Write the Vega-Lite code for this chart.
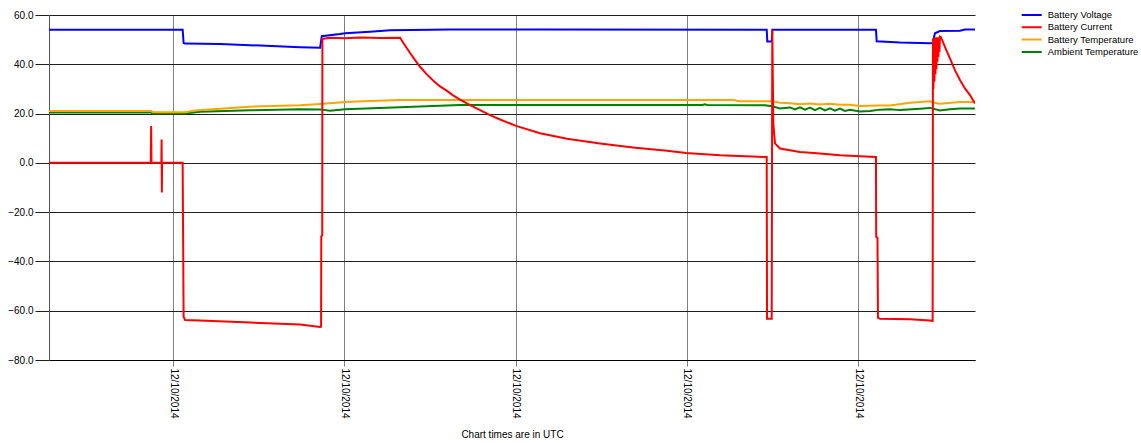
{
  "$schema": "https://vega.github.io/schema/vega-lite/v6.json",
  "width": 926,
  "height": 345,
  "autosize": {"type": "none"},
  "padding": {"left": 49, "top": 15, "right": 166, "bottom": 83},
  "background": "#ffffff",
  "config": {"font": "Liberation Sans", "view": {"stroke": null}},
  "data": {
    "values": [
      {"t": "2014-12-10T00:33:00", "s": "Ambient Temperature", "v": 20.4},
      {"t": "2014-12-10T01:44:35", "s": "Ambient Temperature", "v": 20.4},
      {"t": "2014-12-10T01:46:00", "s": "Ambient Temperature", "v": 20.0},
      {"t": "2014-12-10T02:08:25", "s": "Ambient Temperature", "v": 20.0},
      {"t": "2014-12-10T02:18:55", "s": "Ambient Temperature", "v": 20.7},
      {"t": "2014-12-10T02:53:57", "s": "Ambient Temperature", "v": 21.3},
      {"t": "2014-12-10T03:28:59", "s": "Ambient Temperature", "v": 21.8},
      {"t": "2014-12-10T03:43:00", "s": "Ambient Temperature", "v": 21.7},
      {"t": "2014-12-10T03:50:01", "s": "Ambient Temperature", "v": 21.1},
      {"t": "2014-12-10T04:00:31", "s": "Ambient Temperature", "v": 21.8},
      {"t": "2014-12-10T04:39:04", "s": "Ambient Temperature", "v": 22.6},
      {"t": "2014-12-10T05:02:11", "s": "Ambient Temperature", "v": 23.1},
      {"t": "2014-12-10T05:21:06", "s": "Ambient Temperature", "v": 23.5},
      {"t": "2014-12-10T08:11:00", "s": "Ambient Temperature", "v": 23.5},
      {"t": "2014-12-10T08:12:30", "s": "Ambient Temperature", "v": 23.8},
      {"t": "2014-12-10T08:14:30", "s": "Ambient Temperature", "v": 23.5},
      {"t": "2014-12-10T08:54:49", "s": "Ambient Temperature", "v": 23.4},
      {"t": "2014-12-10T08:59:56", "s": "Ambient Temperature", "v": 23.0},
      {"t": "2014-12-10T09:05:19", "s": "Ambient Temperature", "v": 22.1},
      {"t": "2014-12-10T09:12:20", "s": "Ambient Temperature", "v": 22.5},
      {"t": "2014-12-10T09:15:50", "s": "Ambient Temperature", "v": 21.7},
      {"t": "2014-12-10T09:19:20", "s": "Ambient Temperature", "v": 22.5},
      {"t": "2014-12-10T09:22:50", "s": "Ambient Temperature", "v": 21.6},
      {"t": "2014-12-10T09:26:20", "s": "Ambient Temperature", "v": 22.4},
      {"t": "2014-12-10T09:29:50", "s": "Ambient Temperature", "v": 21.4},
      {"t": "2014-12-10T09:33:21", "s": "Ambient Temperature", "v": 22.3},
      {"t": "2014-12-10T09:36:50", "s": "Ambient Temperature", "v": 21.3},
      {"t": "2014-12-10T09:40:22", "s": "Ambient Temperature", "v": 22.1},
      {"t": "2014-12-10T09:43:50", "s": "Ambient Temperature", "v": 21.2},
      {"t": "2014-12-10T09:47:22", "s": "Ambient Temperature", "v": 22.0},
      {"t": "2014-12-10T09:50:50", "s": "Ambient Temperature", "v": 21.1},
      {"t": "2014-12-10T09:54:22", "s": "Ambient Temperature", "v": 21.5},
      {"t": "2014-12-10T10:01:23", "s": "Ambient Temperature", "v": 20.8},
      {"t": "2014-12-10T10:08:30", "s": "Ambient Temperature", "v": 21.0},
      {"t": "2014-12-10T10:15:23", "s": "Ambient Temperature", "v": 21.6},
      {"t": "2014-12-10T10:22:24", "s": "Ambient Temperature", "v": 21.8},
      {"t": "2014-12-10T10:29:25", "s": "Ambient Temperature", "v": 21.4},
      {"t": "2014-12-10T10:43:25", "s": "Ambient Temperature", "v": 22.0},
      {"t": "2014-12-10T10:50:26", "s": "Ambient Temperature", "v": 22.3},
      {"t": "2014-12-10T10:57:26", "s": "Ambient Temperature", "v": 21.3},
      {"t": "2014-12-10T11:04:26", "s": "Ambient Temperature", "v": 21.8},
      {"t": "2014-12-10T11:11:27", "s": "Ambient Temperature", "v": 22.1},
      {"t": "2014-12-10T11:21:58", "s": "Ambient Temperature", "v": 22.1},

      {"t": "2014-12-10T00:33:00", "s": "Battery Temperature", "v": 21.0},
      {"t": "2014-12-10T01:44:35", "s": "Battery Temperature", "v": 21.0},
      {"t": "2014-12-10T01:46:00", "s": "Battery Temperature", "v": 20.5},
      {"t": "2014-12-10T02:08:25", "s": "Battery Temperature", "v": 20.5},
      {"t": "2014-12-10T02:15:25", "s": "Battery Temperature", "v": 21.2},
      {"t": "2014-12-10T02:32:56", "s": "Battery Temperature", "v": 22.0},
      {"t": "2014-12-10T02:53:57", "s": "Battery Temperature", "v": 22.8},
      {"t": "2014-12-10T03:28:59", "s": "Battery Temperature", "v": 23.4},
      {"t": "2014-12-10T03:43:00", "s": "Battery Temperature", "v": 23.9},
      {"t": "2014-12-10T04:00:31", "s": "Battery Temperature", "v": 24.7},
      {"t": "2014-12-10T04:18:02", "s": "Battery Temperature", "v": 25.1},
      {"t": "2014-12-10T04:39:04", "s": "Battery Temperature", "v": 25.5},
      {"t": "2014-12-10T08:32:23", "s": "Battery Temperature", "v": 25.5},
      {"t": "2014-12-10T08:37:18", "s": "Battery Temperature", "v": 25.0},
      {"t": "2014-12-10T08:59:56", "s": "Battery Temperature", "v": 25.0},
      {"t": "2014-12-10T09:05:19", "s": "Battery Temperature", "v": 24.4},
      {"t": "2014-12-10T09:12:20", "s": "Battery Temperature", "v": 24.2},
      {"t": "2014-12-10T09:19:20", "s": "Battery Temperature", "v": 23.8},
      {"t": "2014-12-10T09:26:20", "s": "Battery Temperature", "v": 24.1},
      {"t": "2014-12-10T09:33:21", "s": "Battery Temperature", "v": 23.7},
      {"t": "2014-12-10T09:40:22", "s": "Battery Temperature", "v": 24.0},
      {"t": "2014-12-10T09:47:22", "s": "Battery Temperature", "v": 23.6},
      {"t": "2014-12-10T09:54:22", "s": "Battery Temperature", "v": 23.6},
      {"t": "2014-12-10T10:01:23", "s": "Battery Temperature", "v": 23.1},
      {"t": "2014-12-10T10:15:23", "s": "Battery Temperature", "v": 23.3},
      {"t": "2014-12-10T10:22:24", "s": "Battery Temperature", "v": 23.3},
      {"t": "2014-12-10T10:36:25", "s": "Battery Temperature", "v": 24.4},
      {"t": "2014-12-10T10:50:26", "s": "Battery Temperature", "v": 25.0},
      {"t": "2014-12-10T10:53:56", "s": "Battery Temperature", "v": 24.3},
      {"t": "2014-12-10T10:57:26", "s": "Battery Temperature", "v": 24.0},
      {"t": "2014-12-10T11:11:27", "s": "Battery Temperature", "v": 24.7},
      {"t": "2014-12-10T11:21:58", "s": "Battery Temperature", "v": 24.7},

      {"t": "2014-12-10T00:33:00", "s": "Battery Voltage", "v": 54.0},
      {"t": "2014-12-10T02:06:40", "s": "Battery Voltage", "v": 54.0},
      {"t": "2014-12-10T02:07:21", "s": "Battery Voltage", "v": 48.6},
      {"t": "2014-12-10T02:08:25", "s": "Battery Voltage", "v": 48.4},
      {"t": "2014-12-10T02:32:56", "s": "Battery Voltage", "v": 48.2},
      {"t": "2014-12-10T03:00:58", "s": "Battery Voltage", "v": 47.6},
      {"t": "2014-12-10T03:28:59", "s": "Battery Voltage", "v": 46.9},
      {"t": "2014-12-10T03:43:00", "s": "Battery Voltage", "v": 46.7},
      {"t": "2014-12-10T03:44:11", "s": "Battery Voltage", "v": 51.4},
      {"t": "2014-12-10T03:57:01", "s": "Battery Voltage", "v": 52.3},
      {"t": "2014-12-10T04:00:31", "s": "Battery Voltage", "v": 52.6},
      {"t": "2014-12-10T04:18:02", "s": "Battery Voltage", "v": 53.2},
      {"t": "2014-12-10T04:32:03", "s": "Battery Voltage", "v": 53.8},
      {"t": "2014-12-10T05:14:05", "s": "Battery Voltage", "v": 54.1},
      {"t": "2014-12-10T06:17:10", "s": "Battery Voltage", "v": 54.1},
      {"t": "2014-12-10T08:56:01", "s": "Battery Voltage", "v": 54.0},
      {"t": "2014-12-10T08:56:26", "s": "Battery Voltage", "v": 49.2},
      {"t": "2014-12-10T08:59:31", "s": "Battery Voltage", "v": 49.2},
      {"t": "2014-12-10T08:59:56", "s": "Battery Voltage", "v": 54.0},
      {"t": "2014-12-10T10:12:35", "s": "Battery Voltage", "v": 54.0},
      {"t": "2014-12-10T10:13:05", "s": "Battery Voltage", "v": 49.3},
      {"t": "2014-12-10T10:29:25", "s": "Battery Voltage", "v": 48.8},
      {"t": "2014-12-10T10:50:26", "s": "Battery Voltage", "v": 48.5},
      {"t": "2014-12-10T10:52:19", "s": "Battery Voltage", "v": 48.6},
      {"t": "2014-12-10T10:53:56", "s": "Battery Voltage", "v": 52.6},
      {"t": "2014-12-10T10:57:26", "s": "Battery Voltage", "v": 53.5},
      {"t": "2014-12-10T11:11:27", "s": "Battery Voltage", "v": 53.6},
      {"t": "2014-12-10T11:14:57", "s": "Battery Voltage", "v": 54.1},
      {"t": "2014-12-10T11:21:58", "s": "Battery Voltage", "v": 54.1},

      {"t": "2014-12-10T00:33:00", "s": "Battery Current", "v": 0},
      {"t": "2014-12-10T01:44:20", "s": "Battery Current", "v": 0},
      {"t": "2014-12-10T01:44:35", "s": "Battery Current", "v": 15},
      {"t": "2014-12-10T01:44:50", "s": "Battery Current", "v": 0},
      {"t": "2014-12-10T01:51:45", "s": "Battery Current", "v": 0},
      {"t": "2014-12-10T01:51:56", "s": "Battery Current", "v": 9.5},
      {"t": "2014-12-10T01:52:06", "s": "Battery Current", "v": -12},
      {"t": "2014-12-10T01:52:16", "s": "Battery Current", "v": 0},
      {"t": "2014-12-10T02:06:40", "s": "Battery Current", "v": 0},
      {"t": "2014-12-10T02:07:21", "s": "Battery Current", "v": -62.5},
      {"t": "2014-12-10T02:08:25", "s": "Battery Current", "v": -63.8},
      {"t": "2014-12-10T02:18:55", "s": "Battery Current", "v": -64.0},
      {"t": "2014-12-10T02:53:57", "s": "Battery Current", "v": -64.8},
      {"t": "2014-12-10T03:28:59", "s": "Battery Current", "v": -65.6},
      {"t": "2014-12-10T03:43:00", "s": "Battery Current", "v": -66.6},
      {"t": "2014-12-10T03:43:42", "s": "Battery Current", "v": -66.5},
      {"t": "2014-12-10T03:43:50", "s": "Battery Current", "v": -29.8},
      {"t": "2014-12-10T03:44:30", "s": "Battery Current", "v": -29.5},
      {"t": "2014-12-10T03:44:37", "s": "Battery Current", "v": 50.3},
      {"t": "2014-12-10T03:50:01", "s": "Battery Current", "v": 50.8},
      {"t": "2014-12-10T04:00:31", "s": "Battery Current", "v": 50.6},
      {"t": "2014-12-10T04:11:02", "s": "Battery Current", "v": 50.9},
      {"t": "2014-12-10T04:25:02", "s": "Battery Current", "v": 50.7},
      {"t": "2014-12-10T04:39:04", "s": "Battery Current", "v": 50.8},
      {"t": "2014-12-10T04:41:52", "s": "Battery Current", "v": 48.2},
      {"t": "2014-12-10T04:46:04", "s": "Battery Current", "v": 44.6},
      {"t": "2014-12-10T04:49:34", "s": "Battery Current", "v": 41.7},
      {"t": "2014-12-10T04:53:04", "s": "Battery Current", "v": 39.0},
      {"t": "2014-12-10T04:57:17", "s": "Battery Current", "v": 36.2},
      {"t": "2014-12-10T05:02:11", "s": "Battery Current", "v": 33.4},
      {"t": "2014-12-10T05:07:05", "s": "Battery Current", "v": 31.0},
      {"t": "2014-12-10T05:11:59", "s": "Battery Current", "v": 29.2},
      {"t": "2014-12-10T05:16:12", "s": "Battery Current", "v": 27.4},
      {"t": "2014-12-10T05:21:06", "s": "Battery Current", "v": 25.7},
      {"t": "2014-12-10T05:28:07", "s": "Battery Current", "v": 23.4},
      {"t": "2014-12-10T05:35:07", "s": "Battery Current", "v": 21.4},
      {"t": "2014-12-10T05:42:07", "s": "Battery Current", "v": 19.4},
      {"t": "2014-12-10T05:49:08", "s": "Battery Current", "v": 17.6},
      {"t": "2014-12-10T06:00:20", "s": "Battery Current", "v": 15.0},
      {"t": "2014-12-10T06:17:10", "s": "Battery Current", "v": 12.0},
      {"t": "2014-12-10T06:36:05", "s": "Battery Current", "v": 9.8},
      {"t": "2014-12-10T06:59:12", "s": "Battery Current", "v": 7.9},
      {"t": "2014-12-10T07:22:19", "s": "Battery Current", "v": 6.2},
      {"t": "2014-12-10T07:46:09", "s": "Battery Current", "v": 4.9},
      {"t": "2014-12-10T07:59:28", "s": "Battery Current", "v": 4.0},
      {"t": "2014-12-10T08:23:17", "s": "Battery Current", "v": 3.1},
      {"t": "2014-12-10T08:54:49", "s": "Battery Current", "v": 2.4},
      {"t": "2014-12-10T08:56:01", "s": "Battery Current", "v": 2.4},
      {"t": "2014-12-10T08:56:15", "s": "Battery Current", "v": -63.3},
      {"t": "2014-12-10T08:59:31", "s": "Battery Current", "v": -63.3},
      {"t": "2014-12-10T08:59:56", "s": "Battery Current", "v": 54.0},
      {"t": "2014-12-10T09:00:38", "s": "Battery Current", "v": 16.1},
      {"t": "2014-12-10T09:01:49", "s": "Battery Current", "v": 7.9},
      {"t": "2014-12-10T09:05:19", "s": "Battery Current", "v": 5.8},
      {"t": "2014-12-10T09:19:20", "s": "Battery Current", "v": 4.4},
      {"t": "2014-12-10T09:33:21", "s": "Battery Current", "v": 3.8},
      {"t": "2014-12-10T09:47:22", "s": "Battery Current", "v": 3.1},
      {"t": "2014-12-10T10:01:23", "s": "Battery Current", "v": 2.7},
      {"t": "2014-12-10T10:12:35", "s": "Battery Current", "v": 2.4},
      {"t": "2014-12-10T10:12:45", "s": "Battery Current", "v": -30.0},
      {"t": "2014-12-10T10:13:40", "s": "Battery Current", "v": -30.5},
      {"t": "2014-12-10T10:14:00", "s": "Battery Current", "v": -62.8},
      {"t": "2014-12-10T10:15:23", "s": "Battery Current", "v": -63.3},
      {"t": "2014-12-10T10:36:25", "s": "Battery Current", "v": -63.5},
      {"t": "2014-12-10T10:50:26", "s": "Battery Current", "v": -64.0},
      {"t": "2014-12-10T10:52:19", "s": "Battery Current", "v": -64.2},
      {"t": "2014-12-10T10:52:32", "s": "Battery Current", "v": 50.5},
      {"t": "2014-12-10T10:52:53", "s": "Battery Current", "v": 30},
      {"t": "2014-12-10T10:53:14", "s": "Battery Current", "v": 50.5},
      {"t": "2014-12-10T10:53:35", "s": "Battery Current", "v": 33},
      {"t": "2014-12-10T10:53:56", "s": "Battery Current", "v": 51},
      {"t": "2014-12-10T10:54:17", "s": "Battery Current", "v": 36},
      {"t": "2014-12-10T10:54:38", "s": "Battery Current", "v": 51},
      {"t": "2014-12-10T10:54:59", "s": "Battery Current", "v": 38},
      {"t": "2014-12-10T10:55:20", "s": "Battery Current", "v": 51},
      {"t": "2014-12-10T10:55:41", "s": "Battery Current", "v": 41},
      {"t": "2014-12-10T10:56:02", "s": "Battery Current", "v": 51},
      {"t": "2014-12-10T10:56:23", "s": "Battery Current", "v": 43},
      {"t": "2014-12-10T10:56:44", "s": "Battery Current", "v": 51},
      {"t": "2014-12-10T10:57:05", "s": "Battery Current", "v": 45},
      {"t": "2014-12-10T10:57:26", "s": "Battery Current", "v": 51.2},
      {"t": "2014-12-10T10:58:08", "s": "Battery Current", "v": 51.0},
      {"t": "2014-12-10T11:00:56", "s": "Battery Current", "v": 47.1},
      {"t": "2014-12-10T11:04:26", "s": "Battery Current", "v": 42.4},
      {"t": "2014-12-10T11:07:56", "s": "Battery Current", "v": 37.6},
      {"t": "2014-12-10T11:11:27", "s": "Battery Current", "v": 33.6},
      {"t": "2014-12-10T11:14:57", "s": "Battery Current", "v": 30.2},
      {"t": "2014-12-10T11:18:28", "s": "Battery Current", "v": 27.5},
      {"t": "2014-12-10T11:21:58", "s": "Battery Current", "v": 24.1}
    ]
  },
  "mark": {"type": "line", "strokeWidth": 2, "interpolate": "linear", "clip": true},
  "encoding": {
    "x": {
      "field": "t",
      "type": "temporal",
      "scale": {
        "domain": [
          {"year": 2014, "month": 12, "date": 10, "hours": 0, "minutes": 33},
          {"year": 2014, "month": 12, "date": 10, "hours": 11, "minutes": 22}
        ],
        "nice": false
      },
      "axis": {
        "values": [
          {"year": 2014, "month": 12, "date": 10, "hours": 2},
          {"year": 2014, "month": 12, "date": 10, "hours": 4},
          {"year": 2014, "month": 12, "date": 10, "hours": 6},
          {"year": 2014, "month": 12, "date": 10, "hours": 8},
          {"year": 2014, "month": 12, "date": 10, "hours": 10}
        ],
        "format": "%m/%d/%Y",
        "labelAngle": 90,
        "labelFontSize": 10,
        "labelColor": "#000000",
        "labelPadding": 2,
        "labelFlush": false,
        "labelOverlap": false,
        "tickSize": 6,
        "tickColor": "#808080",
        "grid": true,
        "gridColor": "#808080",
        "gridOpacity": 1,
        "domainColor": "#000000",
        "title": "Chart times are in UTC",
        "titleFontSize": 10,
        "titleFontWeight": "normal",
        "titleColor": "#000000",
        "titleY": 74,
        "titleBaseline": "middle"
      }
    },
    "y": {
      "field": "v",
      "type": "quantitative",
      "scale": {"domain": [-80, 60], "nice": false, "zero": false},
      "axis": {
        "values": [-80, -60, -40, -20, 0, 20, 40, 60],
        "format": ".1f",
        "title": null,
        "grid": true,
        "gridColor": "#202020",
        "gridOpacity": 1,
        "tickColor": "#202020",
        "tickSize": 14,
        "labelPadding": 2,
        "labelFontSize": 10,
        "labelColor": "#000000",
        "domainColor": "#555555"
      }
    },
    "color": {
      "field": "s",
      "type": "nominal",
      "scale": {
        "domain": ["Battery Voltage", "Battery Current", "Battery Temperature", "Ambient Temperature"],
        "range": ["#0000ff", "#ff0000", "#ffa500", "#008000"]
      },
      "legend": {
        "orient": "none",
        "legendX": 971.7,
        "legendY": -5,
        "title": null,
        "symbolType": "stroke",
        "symbolSize": 400,
        "symbolStrokeWidth": 2,
        "clipHeight": 10,
        "rowPadding": 2.3,
        "labelFontSize": 9.5,
        "labelOffset": 5,
        "labelColor": "#000000",
        "padding": 0
      }
    }
  }
}
